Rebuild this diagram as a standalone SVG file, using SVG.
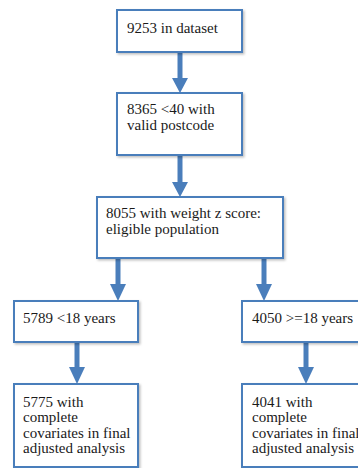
<svg xmlns="http://www.w3.org/2000/svg" width="358" height="468" viewBox="0 0 358 468">
<defs>
<style>
.box{fill:#fff;stroke:#4a7ebb;stroke-width:2;filter:url(#sh)}
.t{font-family:"Liberation Serif","DejaVu Serif",serif;font-size:15px;fill:#1a1a1a}
.shaft{stroke:#4a7ebb;stroke-width:5;fill:none}
.head{fill:#4a7ebb}
</style>
<filter id="sh" x="-10%" y="-10%" width="130%" height="130%">
<feDropShadow dx="1.5" dy="1.5" stdDeviation="1" flood-color="#000" flood-opacity="0.25"/>
</filter>
</defs>
<rect width="358" height="468" fill="#fff"/>
<g id="connectors">
<line class="shaft" x1="180" y1="52" x2="180" y2="79"/>
<polygon class="head" points="172,78 188,78 180,93"/>
<line class="shaft" x1="180" y1="155" x2="180" y2="183"/>
<polygon class="head" points="172,182 188,182 180,197"/>
<line class="shaft" x1="118" y1="258" x2="118" y2="285"/>
<polygon class="head" points="110,284 126,284 118,301"/>
<line class="shaft" x1="264" y1="258" x2="264" y2="285"/>
<polygon class="head" points="256,284 272,284 264,301"/>
<line class="shaft" x1="77" y1="342" x2="77" y2="368"/>
<polygon class="head" points="69,367 85,367 77,384"/>
<line class="shaft" x1="306" y1="342" x2="306" y2="368"/>
<polygon class="head" points="298,367 314,367 306,384"/>
</g>
<g id="n1">
<rect class="box" x="117" y="10" width="125" height="42"/>
<text class="t" x="127" y="33">9253 in dataset</text>
</g>
<g id="n2">
<rect class="box" x="117" y="93" width="125" height="62"/>
<text class="t" x="127" y="114">8365 &lt;40 with</text>
<text class="t" x="127" y="130">valid postcode</text>
</g>
<g id="n3">
<rect class="box" x="97" y="197" width="186" height="61"/>
<text class="t" x="106" y="218">8055 with weight z score:</text>
<text class="t" x="106" y="234">eligible population</text>
</g>
<g id="n4">
<rect class="box" x="14" y="301" width="124" height="41"/>
<text class="t" x="23" y="323">5789 &lt;18 years</text>
</g>
<g id="n5">
<rect class="box" x="242" y="301" width="124" height="41"/>
<text class="t" x="252" y="323">4050 &gt;=18 years</text>
</g>
<g id="n6">
<rect class="box" x="14" y="384" width="124" height="83"/>
<text class="t" x="23" y="407">5775 with</text>
<text class="t" x="23" y="422">complete</text>
<text class="t" x="23" y="438">covariates in final</text>
<text class="t" x="23" y="453">adjusted analysis</text>
</g>
<g id="n7">
<rect class="box" x="242" y="384" width="124" height="83"/>
<text class="t" x="252" y="407">4041 with</text>
<text class="t" x="252" y="422">complete</text>
<text class="t" x="252" y="438">covariates in final</text>
<text class="t" x="252" y="453">adjusted analysis</text>
</g>
</svg>
